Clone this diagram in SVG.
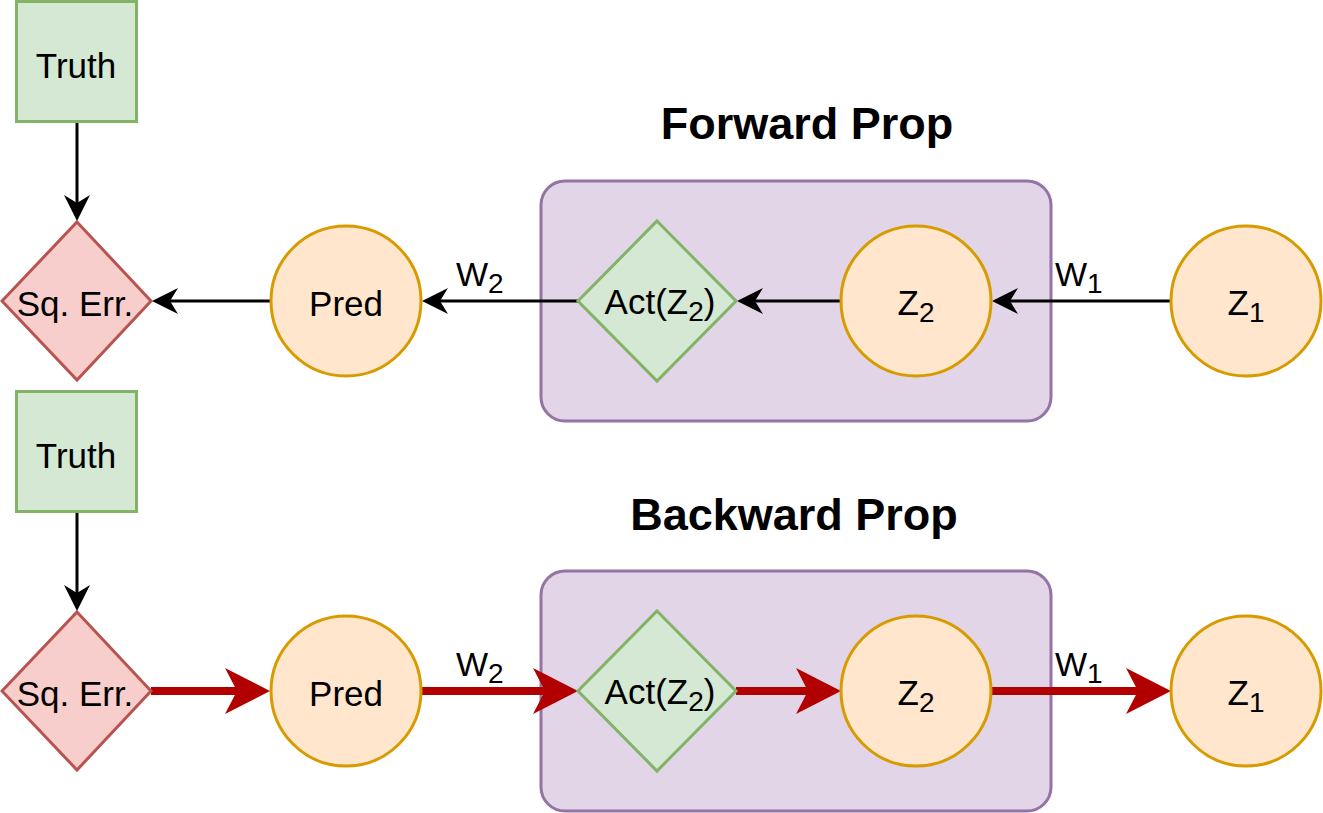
<svg xmlns="http://www.w3.org/2000/svg" width="1323" height="813" viewBox="0 0 1323 813">
<style>
text{font-family:"Liberation Sans",Arial,Helvetica,sans-serif;fill:#000}
.t{font-size:35px;text-anchor:middle}
.lbl{font-size:34px}
.sub{font-size:28px}
.title{font-size:45px;font-weight:bold;text-anchor:middle}
.green{fill:#d5e8d4;stroke:#82b366;stroke-width:3}
.red{fill:#f8cecc;stroke:#b85450;stroke-width:3}
.orange{fill:#ffe6cc;stroke:#d79b00;stroke-width:3}
.purple{fill:#e1d5e7;stroke:#9673a6;stroke-width:3}
.blk{stroke:#000;stroke-width:3;fill:none}
.rd{stroke:#b20000;stroke-width:8;fill:none}
</style>
<defs>
<marker id="ab" markerUnits="userSpaceOnUse" viewBox="0 0 26 26" refX="8" refY="13" markerWidth="26" markerHeight="26" orient="auto">
<path d="M26,13 L0,0 L8,13 L0,26 Z" fill="#000"/>
</marker>
<marker id="ar" markerUnits="userSpaceOnUse" viewBox="0 0 45 46" refX="12" refY="23" markerWidth="45" markerHeight="46" orient="auto">
<path d="M45,23 L0,0 L12,23 L0,46 Z" fill="#b20000"/>
</marker>
</defs>

<g id="containers">
<rect id="fwd-box" class="purple" x="541" y="181" width="510" height="240" rx="24"/>
<rect id="bwd-box" class="purple" x="541" y="571" width="510" height="240" rx="24"/>
</g>

<g id="titles">
<text class="title" x="807" y="139">Forward Prop</text>
<text class="title" x="794" y="530">Backward Prop</text>
</g>

<g id="connectors">
<path class="blk" d="M77,122 L77,203" marker-end="url(#ab)"/>
<path class="blk" d="M271,301 L170,301" marker-end="url(#ab)"/>
<path class="blk" d="M578,301 L440,301" marker-end="url(#ab)"/>
<path class="blk" d="M841,301 L755,301" marker-end="url(#ab)"/>
<path class="blk" d="M1171,301 L1010,301" marker-end="url(#ab)"/>
<path class="blk" d="M77,512 L77,593" marker-end="url(#ab)"/>
<path class="rd" d="M151,691 L237,691" marker-end="url(#ar)"/>
<path class="rd" d="M421,691 L545,691" marker-end="url(#ar)"/>
<path class="rd" d="M736,691 L808,691" marker-end="url(#ar)"/>
<path class="rd" d="M991,691 L1138,691" marker-end="url(#ar)"/>
<text class="lbl" x="456" y="286">W<tspan class="sub" dy="7">2</tspan></text>
<text class="lbl" x="1055" y="286">W<tspan class="sub" dy="7">1</tspan></text>
<text class="lbl" x="456" y="676">W<tspan class="sub" dy="7">2</tspan></text>
<text class="lbl" x="1055" y="676">W<tspan class="sub" dy="7">1</tspan></text>
</g>

<g id="truth-f">
<rect class="green" x="16.5" y="1.5" width="120" height="120"/>
<text class="t" x="76" y="78">Truth</text>
</g>
<g id="sqerr-f">
<polygon class="red" points="77,222 151,301 77,380 2,301"/>
<text class="t" x="75" y="316">Sq. Err.</text>
</g>
<g id="pred-f">
<circle class="orange" cx="346" cy="301" r="75"/>
<text class="t" x="346" y="316">Pred</text>
</g>
<g id="act-f">
<polygon class="green" points="657,221 736,301 657,381 578,301"/>
<text class="t" x="660" y="314">Act(Z<tspan class="sub" dy="7">2</tspan><tspan dy="-7">)</tspan></text>
</g>
<g id="z2-f">
<circle class="orange" cx="916" cy="301" r="75"/>
<text class="t" x="916" y="315">Z<tspan class="sub" dy="7">2</tspan></text>
</g>
<g id="z1-f">
<circle class="orange" cx="1246" cy="301" r="75"/>
<text class="t" x="1246" y="315">Z<tspan class="sub" dy="7">1</tspan></text>
</g>

<g id="truth-b">
<rect class="green" x="16.5" y="391.5" width="120" height="120"/>
<text class="t" x="76" y="468">Truth</text>
</g>
<g id="sqerr-b">
<polygon class="red" points="77,612 151,691 77,770 2,691"/>
<text class="t" x="75" y="706">Sq. Err.</text>
</g>
<g id="pred-b">
<circle class="orange" cx="346" cy="691" r="75"/>
<text class="t" x="346" y="706">Pred</text>
</g>
<g id="act-b">
<polygon class="green" points="657,611 736,691 657,771 578,691"/>
<text class="t" x="660" y="704">Act(Z<tspan class="sub" dy="7">2</tspan><tspan dy="-7">)</tspan></text>
</g>
<g id="z2-b">
<circle class="orange" cx="916" cy="691" r="75"/>
<text class="t" x="916" y="705">Z<tspan class="sub" dy="7">2</tspan></text>
</g>
<g id="z1-b">
<circle class="orange" cx="1246" cy="691" r="75"/>
<text class="t" x="1246" y="705">Z<tspan class="sub" dy="7">1</tspan></text>
</g>
</svg>
